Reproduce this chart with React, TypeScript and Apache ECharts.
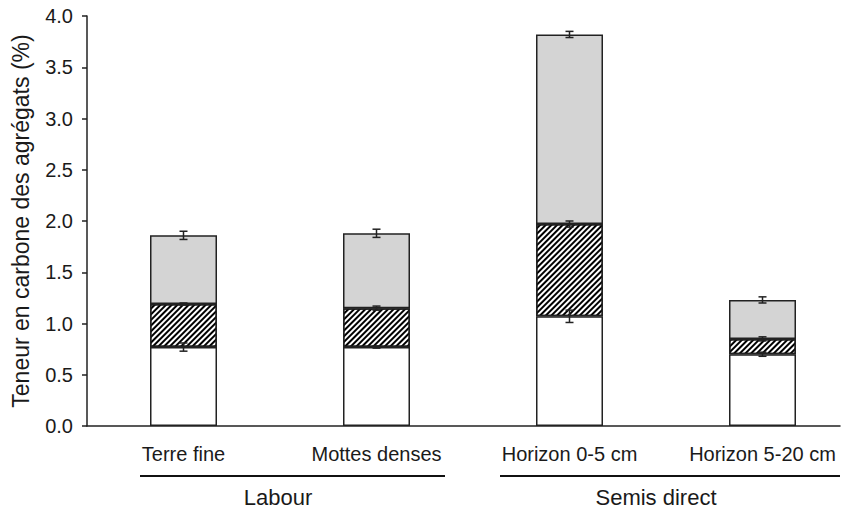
import React, { useEffect, useRef } from 'react';
import * as echarts from 'echarts';

const categories = ['Terre fine', 'Mottes denses', 'Horizon 0-5 cm', 'Horizon 5-20 cm'];
const groups = ['Labour', 'Semis direct'];
// cumulative tops of each stacked segment (%)
const whiteTop = [0.77, 0.77, 1.07, 0.70];
const hatchTop = [1.19, 1.15, 1.97, 0.85];
const grayTop = [1.86, 1.88, 3.82, 1.23];
// error half-widths
const whiteErr = [0.04, 0.01, 0.06, 0.02];
const hatchErr = [0.01, 0.02, 0.03, 0.02];
const grayErr = [0.04, 0.04, 0.03, 0.03];
const yMin = 0;
const yMax = 4;
const yInterval = 0.5;
const yTitle = 'Teneur en carbone des agrégats (%)';

const FONT = '"Liberation Sans", Arial, sans-serif';
const INK = '#1a1a1a';

export default function App() {
  const ref = useRef<HTMLDivElement>(null);
  useEffect(() => {
    if (!ref.current) return;
    const chart = echarts.init(ref.current, null, { renderer: 'svg' });
    const whiteSeg = whiteTop;
    const hatchSeg = hatchTop.map((v, i) => +(v - whiteTop[i]).toFixed(3));
    const graySeg = grayTop.map((v, i) => +(v - hatchTop[i]).toFixed(3));
    const errData = [
      ...whiteTop.map((v, i) => [i, v, whiteErr[i]]),
      ...hatchTop.map((v, i) => [i, v, hatchErr[i]]),
      ...grayTop.map((v, i) => [i, v, grayErr[i]]),
    ];
    const border = { borderColor: '#222', borderWidth: 1.5 };
    const option: any = {
      animation: false,
      grid: [
        { left: 87, right: 7, top: 16, bottom: 84 },
        { left: 183.5, right: 84.5, top: 16, bottom: 84 },
      ],
      xAxis: [
        {
          gridIndex: 0, type: 'category', data: categories,
          axisLine: { show: true, lineStyle: { color: '#222', width: 1.5 } },
          axisTick: { show: false }, axisLabel: { show: false }, splitLine: { show: false },
        },
        {
          gridIndex: 1, type: 'category', data: categories, boundaryGap: false,
          axisLine: { show: false }, axisTick: { show: false }, splitLine: { show: false },
          axisLabel: { interval: 0, margin: 18, fontSize: 20, fontFamily: FONT, color: INK },
        },
      ],
      yAxis: [
        {
          gridIndex: 0, type: 'value', min: yMin, max: yMax, interval: yInterval,
          name: yTitle, nameLocation: 'middle', nameGap: 55,
          nameTextStyle: { fontSize: 23, fontFamily: FONT, color: INK },
          axisLine: { show: true, lineStyle: { color: '#222', width: 1.5 } },
          axisTick: { show: true, length: 5, lineStyle: { color: '#222', width: 1.5 } },
          splitLine: { show: false },
          axisLabel: {
            margin: 14, fontSize: 20, fontFamily: FONT, color: INK,
            formatter: (v: number) => v.toFixed(1),
          },
        },
        { gridIndex: 1, type: 'value', min: yMin, max: yMax, interval: yInterval, show: false },
      ],
      series: [
        {
          type: 'bar', xAxisIndex: 1, yAxisIndex: 1, stack: 'c', barWidth: 67, clip: false,
          data: whiteSeg, itemStyle: { color: '#ffffff', ...border },
        },
        {
          type: 'bar', xAxisIndex: 1, yAxisIndex: 1, stack: 'c', barWidth: 67, clip: false,
          data: hatchSeg,
          itemStyle: {
            color: '#ffffff', ...border,
            decal: {
              symbol: 'rect', symbolSize: 1, color: '#000000', backgroundColor: '#ffffff',
              dashArrayX: [1, 0], dashArrayY: [1.8, 1.2], rotation: -Math.PI / 4,
            },
          },
        },
        {
          type: 'bar', xAxisIndex: 1, yAxisIndex: 1, stack: 'c', barWidth: 67, clip: false,
          data: graySeg, itemStyle: { color: '#d4d4d4', ...border },
        },
        {
          type: 'custom', xAxisIndex: 1, yAxisIndex: 1, z: 10, clip: false,
          data: errData,
          encode: { x: 0, y: 1 },
          renderItem: (params: any, api: any) => {
            const x = api.value(0);
            const v = api.value(1);
            const e = api.value(2);
            const hi = api.coord([x, v + e]);
            const lo = api.coord([x, v - e]);
            const cw = 4;
            const style = { stroke: '#222', lineWidth: 1.5 };
            return {
              type: 'group',
              children: [
                { type: 'line', shape: { x1: hi[0], y1: hi[1], x2: lo[0], y2: lo[1] }, style },
                { type: 'line', shape: { x1: hi[0] - cw, y1: hi[1], x2: hi[0] + cw, y2: hi[1] }, style },
                { type: 'line', shape: { x1: lo[0] - cw, y1: lo[1], x2: lo[0] + cw, y2: lo[1] }, style },
              ],
            };
          },
        },
      ],
      graphic: [
        { type: 'line', shape: { x1: 140, y1: 476, x2: 445, y2: 476 }, style: { stroke: '#111', lineWidth: 2.2 } },
        { type: 'line', shape: { x1: 500, y1: 476, x2: 840, y2: 476 }, style: { stroke: '#111', lineWidth: 2.2 } },
        {
          type: 'text', x: 278, y: 497,
          style: { text: groups[0], fontSize: 22, fontFamily: FONT, fill: INK, align: 'center', verticalAlign: 'middle' },
        },
        {
          type: 'text', x: 656, y: 497,
          style: { text: groups[1], fontSize: 22, fontFamily: FONT, fill: INK, align: 'center', verticalAlign: 'middle' },
        },
      ],
    };
    chart.setOption(option);
    return () => chart.dispose();
  }, []);
  return (
    <div
      ref={ref}
      style={{ position: 'fixed', left: 0, top: 0, width: 847, height: 510, background: '#fff' }}
    />
  );
}
